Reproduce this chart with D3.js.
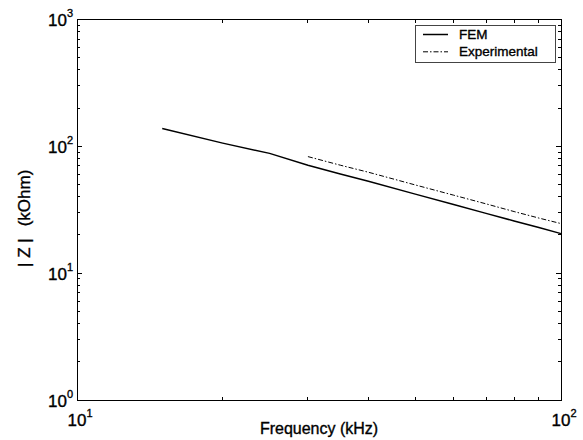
<!DOCTYPE html>
<html>
<head>
<meta charset="utf-8">
<script src="https://cdn.jsdelivr.net/npm/d3@7"></script>
<style>
  html, body { margin: 0; padding: 0; background: #fff; }
  svg { display: block; font-family: "Liberation Sans", Arial, Helvetica, sans-serif; }
  text { stroke: #000; stroke-width: 0.35px; }
</style>
</head>
<body>
<svg id="chart" width="583" height="440"></svg>
<script>
// ---- data ----
const femFreq = [15, 20, 25, 30, 35, 40, 50, 60, 70, 80, 90, 100];
const femZ    = [138, 106, 88, 71, 60.5, 53, 42, 34.8, 29.6, 25.8, 22.9, 20.5];
const expFreq = [30, 35, 40, 50, 60, 70, 80, 90, 100];
const expZ    = [83, 71, 62.5, 49.6, 41.2, 35.2, 30.6, 27.2, 24.6];
const xDecades = [10, 100];
const yDecades = [1, 10, 100, 1000];
const seriesNames = ["FEM", "Experimental"];
const xLabel = "Frequency (kHz)";
const yLabelA = "| Z |";
const yLabelB = "(kOhm)";

// ---- layout ----
const L = 77, R = 561, T = 19.5, B = 400;
const svg = d3.select("#chart");
const x = d3.scaleLog().domain([10, 100]).range([L, R]);
const y = d3.scaleLog().domain([1, 1000]).range([B, T]);

// minor ticks
const xMinor = [];
for (let d = 10; d < 100; d *= 10) for (let k = 2; k <= 9; k++) xMinor.push(d * k);
const yMinor = [];
for (let d = 1; d < 1000; d *= 10) for (let k = 2; k <= 9; k++) yMinor.push(d * k);

const g = svg.append("g").attr("stroke", "#000").attr("stroke-width", 1).attr("shape-rendering", "crispEdges");
// frame
g.append("rect").attr("x", L).attr("y", T).attr("width", R - L).attr("height", B - T).attr("fill", "none");

// x ticks bottom & top
xMinor.forEach(v => {
  g.append("line").attr("x1", x(v)).attr("x2", x(v)).attr("y1", B).attr("y2", B - 3);
  g.append("line").attr("x1", x(v)).attr("x2", x(v)).attr("y1", T).attr("y2", T + 3);
});
// y ticks left & right
yMinor.forEach(v => {
  g.append("line").attr("y1", y(v)).attr("y2", y(v)).attr("x1", L).attr("x2", L + 3);
  g.append("line").attr("y1", y(v)).attr("y2", y(v)).attr("x1", R).attr("x2", R - 3);
});
yDecades.forEach(v => {
  g.append("line").attr("y1", y(v)).attr("y2", y(v)).attr("x1", L).attr("x2", L + 5);
  g.append("line").attr("y1", y(v)).attr("y2", y(v)).attr("x1", R).attr("x2", R - 5);
});

// tick labels
function expLabel(v, xp, yp, anchor) {
  const e = Math.round(Math.log10(v));
  const t = svg.append("text").attr("x", xp).attr("y", yp).attr("text-anchor", anchor)
    .attr("font-size", 17).attr("fill", "#000");
  t.append("tspan").text("10");
  t.append("tspan").attr("font-size", 11).attr("dy", -9).text(e);
  return t;
}
yDecades.forEach(v => expLabel(v, 73, y(v) + 6.5, "end"));
xDecades.forEach(v => expLabel(v, x(v) + 3, B + 26, "middle"));

// axis labels
svg.append("text").attr("x", (L + R) / 2).attr("y", 433.5).attr("text-anchor", "middle")
  .attr("font-size", 16).attr("fill", "#000").text(xLabel);
svg.append("text").attr("transform", "translate(30,267) rotate(-90)").attr("text-anchor", "start")
  .attr("font-size", 17).attr("fill", "#000").attr("xml:space", "preserve")
  .call(t => {
    t.append("tspan").text(yLabelA);
    t.append("tspan").attr("dx", 12).text(yLabelB);
  });

// lines
const line = d3.line().x(d => x(d[0])).y(d => y(d[1]));
svg.append("path").datum(d3.zip(femFreq, femZ)).attr("d", line)
  .attr("fill", "none").attr("stroke", "#000").attr("stroke-width", 1.5);
svg.append("path").datum(d3.zip(expFreq, expZ)).attr("d", line)
  .attr("fill", "none").attr("stroke", "#000").attr("stroke-width", 1)
  .attr("stroke-dasharray", "5,2,1.5,2");

// legend
const lg = svg.append("g");
lg.append("rect").attr("x", 415.5).attr("y", 25.5).attr("width", 140).attr("height", 37)
  .attr("fill", "#fff").attr("stroke", "#444").attr("stroke-width", 1);
const styles = [{w: 1.5, dash: null}, {w: 1, dash: "5,2,1.5,2"}];
seriesNames.forEach((name, i) => {
  const yy = 34.5 + i * 17.3;
  const ln = lg.append("line").attr("x1", 423).attr("x2", 448).attr("y1", yy).attr("y2", yy)
    .attr("stroke", "#000").attr("stroke-width", styles[i].w);
  if (styles[i].dash) ln.attr("stroke-dasharray", styles[i].dash);
  lg.append("text").attr("x", 459).attr("y", yy + 4.5).attr("font-size", 13.5).attr("fill", "#000").text(name);
});
</script>
</body>
</html>
